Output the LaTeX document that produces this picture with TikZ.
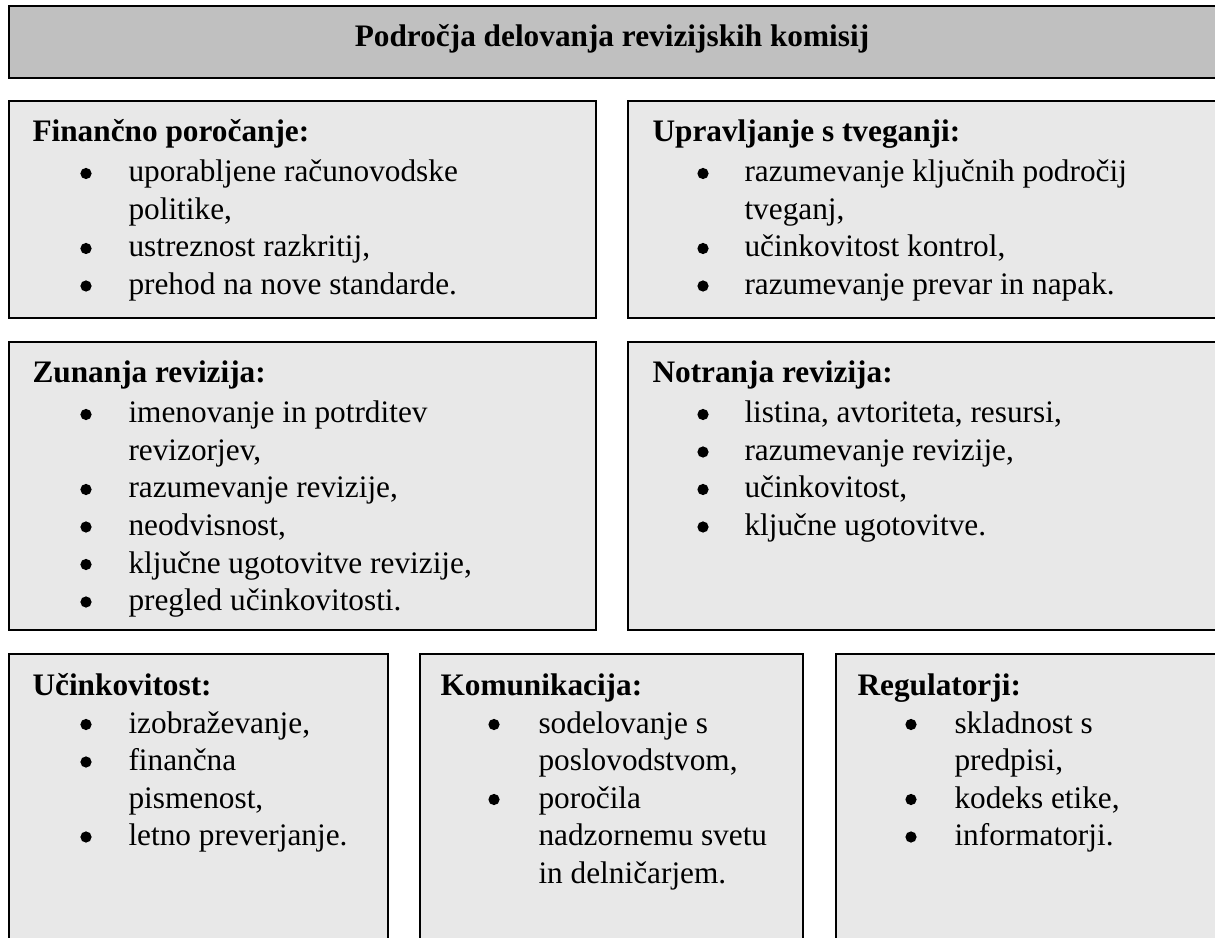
\documentclass[tikz,border=0pt]{standalone}
\usepackage{fontspec}
\setmainfont{Liberation Serif}
\begin{document}
\begin{tikzpicture}[x=0.3834pt,y=-0.3834pt,
  box/.style={draw=black,line width=0.7pt,fill=boxgray},
  titlebox/.style={draw=black,line width=0.8pt,fill=titlegray},
  txt/.style={anchor=base west,inner sep=0pt,font=\fontsize{12}{13.8}\selectfont},
  hd/.style={anchor=base west,inner sep=0pt,font=\fontsize{12}{13.8}\selectfont\bfseries},
  bul/.style={circle,fill=black,inner sep=0pt,minimum size=4.3pt}]
\definecolor{boxgray}{HTML}{E8E8E8}
\definecolor{titlegray}{HTML}{C0C0C0}
\useasboundingbox (0,0) rectangle (1215,938);
\newcommand\blitem[5]{\node[bul] (#1b) at (#2,#4-8.5) {}; \node[txt] (#1) at (#3,#4) {#5};}
% boxes
\draw[titlebox] (9,6) rectangle (1230,78);
\draw[box] (9,101) rectangle (596,318);
\draw[box] (628,101) rectangle (1230,318);
\draw[box] (9,342) rectangle (596,630);
\draw[box] (628,342) rectangle (1230,630);
\draw[box] (9,654) rectangle (388,950);
\draw[box] (420,654) rectangle (803,950);
\draw[box] (836,654) rectangle (1230,950);
% title
\node[anchor=base,inner sep=0pt,font=\fontsize{12}{13.8}\selectfont\bfseries] (title) at (612,47) {Področja delovanja revizijskih komisij};
% row 1 left
\node[hd] (h1) at (32,142) {Finančno poročanje:};
\blitem{a1}{86}{128}{182}{uporabljene računovodske}
\node[txt] (a1c) at (128,219.5) {politike,};
\blitem{a2}{86}{128}{257}{ustreznost razkritij,}
\blitem{a3}{86}{128}{294.5}{prehod na nove standarde.}
% row 1 right
\node[hd] (h2) at (652,142) {Upravljanje s tveganji:};
\blitem{b1}{703}{744}{182}{razumevanje ključnih področij}
\node[txt] (b1c) at (744,219.5) {tveganj,};
\blitem{b2}{703}{744}{257}{učinkovitost kontrol,}
\blitem{b3}{703}{744}{294.5}{razumevanje prevar in napak.}
% row 2 left
\node[hd] (h3) at (32,383) {Zunanja revizija:};
\blitem{c1}{86}{128}{423}{imenovanje in potrditev}
\node[txt] (c1c) at (128,460.5) {revizorjev,};
\blitem{c2}{86}{128}{498}{razumevanje revizije,}
\blitem{c3}{86}{128}{535.5}{neodvisnost,}
\blitem{c4}{86}{128}{573}{ključne ugotovitve revizije,}
\blitem{c5}{86}{128}{610.5}{pregled učinkovitosti.}
% row 2 right
\node[hd] (h4) at (652,383) {Notranja revizija:};
\blitem{d1}{703}{744}{423}{listina, avtoriteta, resursi,}
\blitem{d2}{703}{744}{460.5}{razumevanje revizije,}
\blitem{d3}{703}{744}{498}{učinkovitost,}
\blitem{d4}{703}{744}{535.5}{ključne ugotovitve.}
% row 3 col 1
\node[hd] (h5) at (32,695) {Učinkovitost:};
\blitem{e1}{86}{128}{733}{izobraževanje,}
\blitem{e2}{86}{128}{770.5}{finančna}
\node[txt] (e2c) at (128,808) {pismenost,};
\blitem{e3}{86}{128}{845.5}{letno preverjanje.}
% row 3 col 2
\node[hd] (h6) at (440,695) {Komunikacija:};
\blitem{f1}{494}{538}{733}{sodelovanje s}
\node[txt] (f1c) at (538,770.5) {poslovodstvom,};
\blitem{f2}{494}{538}{808}{poročila}
\node[txt] (f2c) at (538,845.5) {nadzornemu svetu};
\node[txt] (f2d) at (538,883) {in delničarjem.};
% row 3 col 3
\node[hd] (h7) at (857,695) {Regulatorji:};
\blitem{g1}{911}{954}{733}{skladnost s}
\node[txt] (g1c) at (954,770.5) {predpisi,};
\blitem{g2}{911}{954}{808}{kodeks etike,}
\blitem{g3}{911}{954}{845.5}{informatorji.}
\end{tikzpicture}
\end{document}
